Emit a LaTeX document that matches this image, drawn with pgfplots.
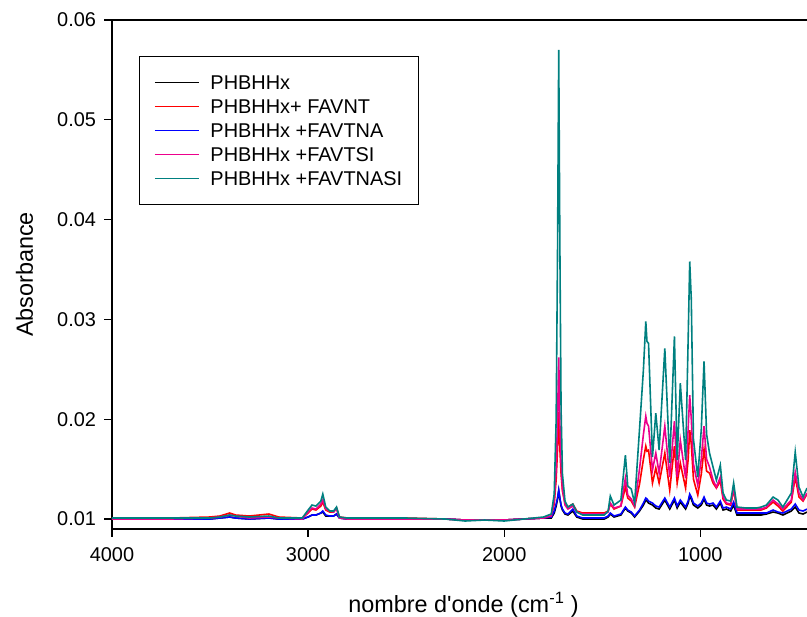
\documentclass[border=0pt]{standalone}
\usepackage{fontspec}
\setmainfont{Liberation Sans}
\usepackage{pgfplots}
\usepackage{pgfplotstable}
\pgfplotsset{compat=1.18}
\definecolor{cteal}{RGB}{0,128,128}
\pgfplotstableread{
w k r b m t
4000 0.0100 0.0101 0.0100 0.0100 0.0101
3700 0.0100 0.0101 0.0100 0.0100 0.0101
3500 0.0100 0.0102 0.0100 0.0101 0.0101
3450 0.0101 0.0103 0.0101 0.0102 0.0102
3400 0.0102 0.0106 0.0102 0.0104 0.0104
3370 0.0101 0.0104 0.0101 0.0103 0.0103
3300 0.0100 0.0103 0.0100 0.0101 0.0102
3200 0.0101 0.0105 0.0101 0.0102 0.0103
3150 0.0100 0.0102 0.0100 0.0101 0.0101
3030 0.0100 0.0101 0.0100 0.0100 0.0101
3000 0.0102 0.0106 0.0102 0.0107 0.0109
2980 0.0104 0.0110 0.0104 0.0111 0.0114
2960 0.0104 0.0109 0.0104 0.0110 0.0113
2935 0.0106 0.0113 0.0106 0.0115 0.0118
2925 0.0107 0.0117 0.0108 0.0119 0.0125
2910 0.0103 0.0109 0.0104 0.0110 0.0112
2890 0.0103 0.0107 0.0103 0.0108 0.0108
2870 0.0103 0.0107 0.0103 0.0107 0.0108
2855 0.0105 0.0111 0.0105 0.0110 0.0112
2840 0.0101 0.0102 0.0101 0.0101 0.0102
2800 0.0100 0.0101 0.0100 0.0100 0.0101
2500 0.0100 0.0101 0.0100 0.0100 0.0101
2300 0.0100 0.0100 0.0100 0.0100 0.0100
2200 0.0099 0.0099 0.0099 0.0099 0.0098
2100 0.0099 0.0099 0.0099 0.0099 0.0099
2000 0.0099 0.0099 0.0099 0.0099 0.0098
1900 0.0100 0.0100 0.0100 0.0100 0.0100
1800 0.0101 0.0101 0.0101 0.0101 0.0102
1760 0.0101 0.0103 0.0102 0.0103 0.0105
1745 0.0106 0.0115 0.0108 0.0118 0.0125
1735 0.0113 0.0140 0.0115 0.0150 0.0200
1728 0.0120 0.0170 0.0121 0.0200 0.0370
1722 0.0128 0.0207 0.0129 0.0262 0.0570
1716 0.0120 0.0170 0.0121 0.0195 0.0370
1710 0.0113 0.0145 0.0114 0.0155 0.0210
1703 0.0109 0.0128 0.0110 0.0130 0.0145
1690 0.0105 0.0116 0.0106 0.0114 0.0118
1675 0.0104 0.0112 0.0105 0.0110 0.0112
1650 0.0108 0.0115 0.0110 0.0113 0.0115
1630 0.0102 0.0108 0.0103 0.0107 0.0107
1600 0.0100 0.0106 0.0101 0.0105 0.0104
1490 0.0100 0.0106 0.0101 0.0105 0.0104
1470 0.0102 0.0108 0.0103 0.0107 0.0108
1459 0.0105 0.0115 0.0106 0.0116 0.0123
1440 0.0102 0.0110 0.0103 0.0111 0.0114
1405 0.0104 0.0113 0.0105 0.0113 0.0119
1382 0.0111 0.0132 0.0112 0.0141 0.0164
1370 0.0108 0.0121 0.0109 0.0124 0.0133
1352 0.0106 0.0118 0.0107 0.0120 0.0130
1335 0.0102 0.0112 0.0103 0.0113 0.0116
1310 0.0108 0.0135 0.0109 0.0150 0.0190
1290 0.0114 0.0160 0.0116 0.0185 0.0250
1278 0.0119 0.0173 0.0121 0.0203 0.0298
1272 0.0118 0.0168 0.0120 0.0196 0.0278
1264 0.0116 0.0169 0.0118 0.0193 0.0276
1244 0.0114 0.0136 0.0116 0.0149 0.0162
1227 0.0111 0.0151 0.0113 0.0166 0.0206
1210 0.0110 0.0136 0.0112 0.0146 0.0169
1181 0.0119 0.0166 0.0121 0.0193 0.0271
1156 0.0110 0.0129 0.0112 0.0142 0.0156
1132 0.0119 0.0173 0.0121 0.0198 0.0283
1118 0.0111 0.0136 0.0113 0.0142 0.0159
1102 0.0117 0.0156 0.0119 0.0179 0.0236
1075 0.0110 0.0131 0.0112 0.0141 0.0159
1062 0.0116 0.0160 0.0118 0.0190 0.0280
1054 0.0123 0.0189 0.0125 0.0224 0.0358
1046 0.0120 0.0175 0.0122 0.0200 0.0320
1035 0.0114 0.0140 0.0116 0.0155 0.0180
1013 0.0111 0.0124 0.0113 0.0134 0.0142
995 0.0114 0.0145 0.0116 0.0160 0.0190
981 0.0120 0.0170 0.0122 0.0193 0.0258
968 0.0114 0.0148 0.0116 0.0160 0.0185
953 0.0113 0.0146 0.0115 0.0152 0.0166
935 0.0114 0.0136 0.0116 0.0139 0.0152
918 0.0110 0.0131 0.0112 0.0132 0.0139
898 0.0116 0.0138 0.0118 0.0142 0.0154
884 0.0109 0.0120 0.0111 0.0122 0.0126
867 0.0110 0.0115 0.0112 0.0116 0.0119
845 0.0108 0.0114 0.0110 0.0115 0.0118
830 0.0114 0.0129 0.0117 0.0131 0.0136
813 0.0104 0.0109 0.0106 0.0110 0.0112
765 0.0104 0.0109 0.0106 0.0110 0.0111
714 0.0104 0.0109 0.0106 0.0110 0.0111
690 0.0104 0.0109 0.0106 0.0110 0.0112
663 0.0105 0.0111 0.0106 0.0112 0.0114
629 0.0107 0.0117 0.0109 0.0119 0.0122
604 0.0106 0.0113 0.0107 0.0115 0.0119
579 0.0104 0.0108 0.0106 0.0110 0.0112
536 0.0108 0.0117 0.0110 0.0119 0.0126
516 0.0112 0.0142 0.0115 0.0147 0.0167
497 0.0106 0.0122 0.0109 0.0126 0.0132
476 0.0105 0.0118 0.0108 0.0119 0.0122
456 0.0107 0.0125 0.0110 0.0126 0.0131
}\spectra
\begin{document}
\begin{tikzpicture}
\begin{axis}[
  at={(112bp,88bp)}, anchor=south west,
  scale only axis, width=695bp, height=509bp,
  x dir=reverse, xmin=456, xmax=4000,
  ymin=0.009, ymax=0.06,
  xtick={1000,2000,3000,4000},
  ytick={0.01,0.02,0.03,0.04,0.05,0.06},
  scaled y ticks=false, scaled x ticks=false,
  axis x line*=bottom, axis y line*=left,
  axis line style={-, line width=1.2bp},
  tick align=outside, major tick length=7.5bp,
  tick style={line width=1.2bp, black},
  /pgf/number format/assume math mode=true,
  ticklabel style={font=\fontsize{20}{23}\selectfont},
  xticklabel style={/pgf/number format/set thousands separator={}, yshift=-8bp},
  yticklabel style={/pgf/number format/fixed, /pgf/number format/fixed zerofill, /pgf/number format/precision=2, xshift=-5bp},
  every axis y label/.style={at={([xshift=-79bp]axis description cs:0,0.5)}, rotate=90, anchor=base, font=\fontsize{23.5}{28}\selectfont},
  every axis x label/.style={at={([xshift=4bp,yshift=-83bp]axis description cs:0.5,0)}, anchor=base, font=\fontsize{23.5}{28}\selectfont},
  ylabel={Absorbance},
  xlabel={nombre d\textquotesingle onde (cm\textsuperscript{-1} )},
  legend cell align=left,
  legend style={at={(rel axis cs:0.0388,0.9293)}, anchor=north west,
    draw=black, line width=1bp, inner xsep=15bp, inner ysep=19bp,
    row sep=10bp,
    font=\fontsize{20}{23}\selectfont,
    nodes={inner xsep=1bp, inner ysep=0pt, text height=14bp, text depth=0pt},
    /tikz/every odd column/.append style={column sep=10bp}},
  legend image code/.code={\draw[line width=1bp] (0bp,0bp) -- (44bp,0bp);},
  every axis plot/.append style={line width=1.6bp},
]
\addplot[black] table[x=w,y=k] {\spectra};
\addlegendentry{PHBHHx}
\addplot[red] table[x=w,y=r] {\spectra};
\addlegendentry{PHBHHx+ FAVNT}
\addplot[blue] table[x=w,y=b] {\spectra};
\addlegendentry{PHBHHx +FAVTNA}
\addplot[magenta] table[x=w,y=m] {\spectra};
\addlegendentry{PHBHHx +FAVTSI}
\addplot[cteal] table[x=w,y=t] {\spectra};
\addlegendentry{PHBHHx +FAVTNASI}
\draw[line width=1.2bp] (rel axis cs:0,1) -- (rel axis cs:1,1);
\end{axis}
\pgfresetboundingbox
\path (0,0) rectangle (807bp,617bp);
\end{tikzpicture}
\end{document}
